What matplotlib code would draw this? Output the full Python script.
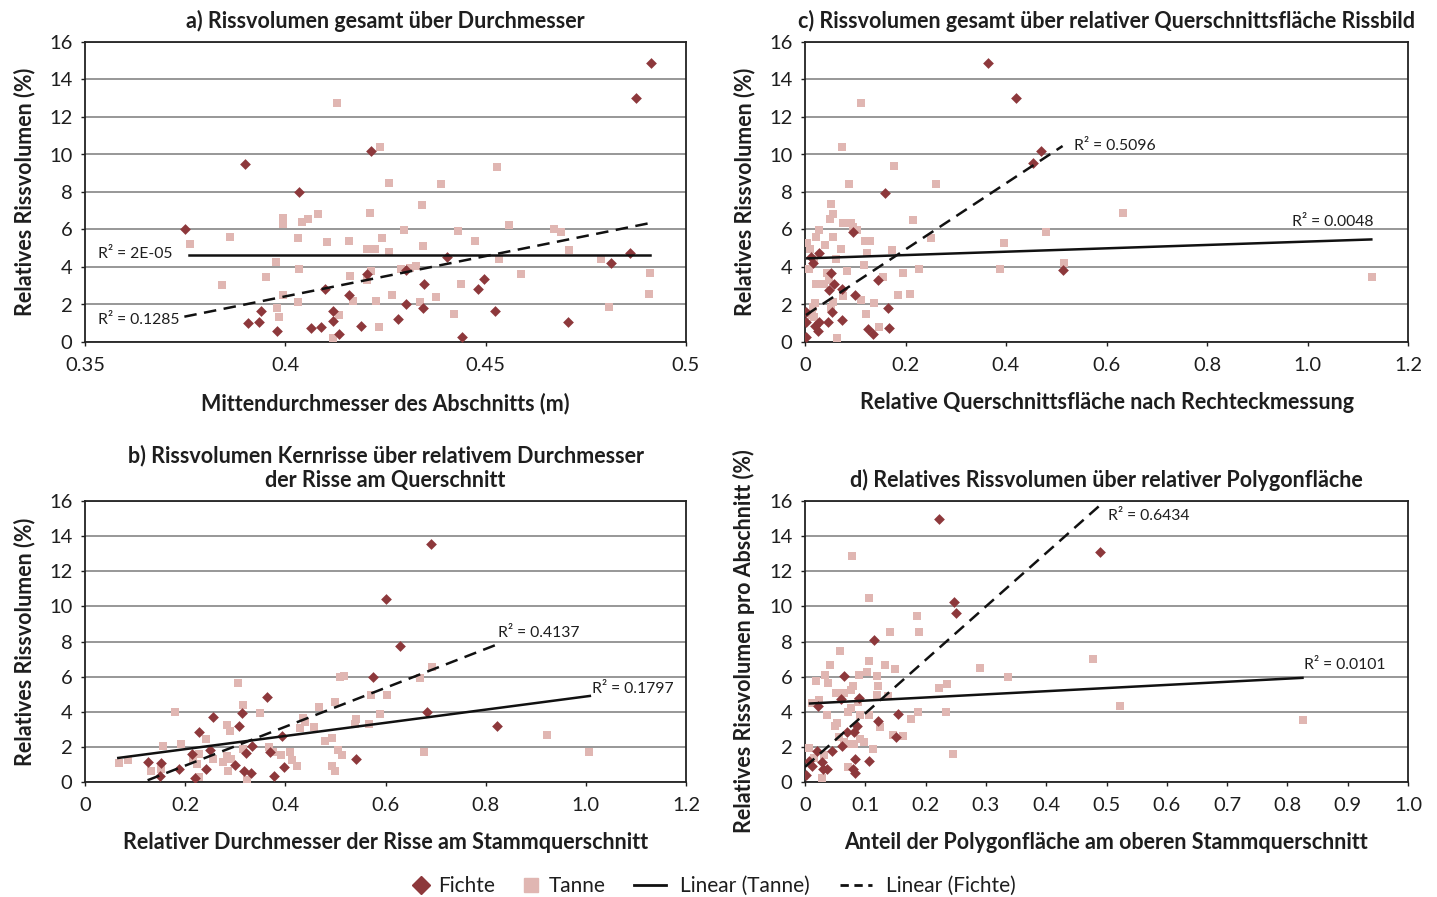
import matplotlib
matplotlib.use("Agg")
import matplotlib.pyplot as plt
from matplotlib.lines import Line2D
import numpy as np

plt.rcParams['font.family'] = ['Lato', 'DejaVu Sans']

# ---------------- data ----------------
# a) Rissvolumen gesamt über Durchmesser
a_fichte_x = [0.375, 0.390, 0.4033, 0.4214, 0.3906, 0.3934, 0.394, 0.3978, 0.4064, 0.4088, 0.410, 0.4119,
              0.4119, 0.4135, 0.416, 0.4188, 0.4204, 0.4913, 0.4874, 0.4404, 0.4346, 0.4301, 0.4300, 0.4343,
              0.4282, 0.4442, 0.4482, 0.4495, 0.4523, 0.4705, 0.4813, 0.486]
a_fichte_y = [6.0, 9.5, 8.0, 10.2, 1.03, 1.08, 1.64, 0.61, 0.73, 0.78, 2.8, 1.65,
              1.14, 0.45, 2.5, 0.85, 3.6, 14.88, 13.0, 4.55, 3.07, 2.03, 3.84, 1.83,
              1.2, 0.29, 2.8, 3.34, 1.63, 1.08, 4.23, 4.72]
a_tanne_x = [0.4128, 0.4237, 0.4211, 0.3994, 0.3994, 0.4042, 0.4057, 0.4082, 0.3763, 0.3863, 0.4032, 0.4103,
             0.4158, 0.4203, 0.4224, 0.4241, 0.3977, 0.4034, 0.4214, 0.3952, 0.3842, 0.4161, 0.4204, 0.3995,
             0.4168, 0.4227, 0.4032, 0.3979, 0.3984, 0.4134, 0.4234, 0.4118, 0.4529, 0.4259, 0.4388, 0.434,
             0.4297, 0.443, 0.4559, 0.467, 0.4688, 0.4344, 0.4473, 0.4259, 0.4707, 0.4533, 0.4788, 0.4289,
             0.4312, 0.4325, 0.491, 0.4587, 0.4438, 0.4265, 0.4376, 0.4335, 0.4908, 0.4807, 0.4421]
a_tanne_y = [12.77, 10.4, 6.9, 6.63, 6.28, 6.4, 6.56, 6.83, 5.24, 5.62, 5.56, 5.31,
             5.40, 4.98, 4.98, 5.56, 4.27, 3.87, 3.77, 3.47, 3.04, 3.54, 3.3, 2.5,
             2.17, 2.17, 2.12, 1.83, 1.33, 1.46, 0.80, 0.21, 9.35, 8.48, 8.43, 7.32,
             5.99, 5.94, 6.24, 6.01, 5.88, 5.14, 5.40, 4.8, 4.9, 4.43, 4.44, 3.87,
             3.93, 4.07, 3.7, 3.64, 3.07, 2.52, 2.38, 2.12, 2.58, 1.88, 1.49]

# c) Rissvolumen gesamt über relativer Querschnittsfläche Rissbild
c_fichte_x = [0.3645, 0.4197, 0.4695, 0.4529, 0.16, 0.514, 0.1448, 0.0996, 0.0737, 0.0584, 0.0485, 0.0518,
              0.0285, 0.0153, 0.012, 0.166, 0.0538, 0.0737, 0.0452, 0.0285, 0.02, 0.0266, 0.002, 0.002,
              0.1248, 0.136, 0.168, 0.002, 0.0963]
c_fichte_y = [14.88, 13.01, 10.17, 9.53, 7.97, 3.82, 3.32, 2.49, 2.81, 3.11, 2.77, 3.66,
              4.76, 4.23, 4.55, 1.8, 1.62, 1.19, 1.07, 1.07, 0.85, 0.6, 1.08, 1.62,
              0.69, 0.43, 0.76, 0.29, 5.88]
c_tanne_x = [0.1122, 0.073, 0.1766, 0.087, 0.2616, 0.0525, 0.0551, 0.0505, 0.0750, 0.0916, 0.095, 0.103,
             0.2158, 0.0285, 0.0226, 0.0551, 0.0046, 0.0405, 0.0711, 0.12, 0.1288, 0.1235, 0.2503, 0.397,
             0.48, 0.174, 0.01, 0.0179, 0.0618, 0.0086, 0.117, 0.0843, 0.0438, 0.1952, 0.2271, 0.3884,
             0.5146, 0.156, 0.0219, 0.0385, 0.0478, 0.0764, 0.1122, 0.1375, 0.186, 0.2092, 0.0551, 0.02,
             0.0166, 0.0146, 0.0518, 0.1215, 0.0179, 0.1467, 0.0637, 0.6335, 1.1275]
c_tanne_y = [12.77, 10.42, 9.39, 8.44, 8.44, 7.34, 6.81, 6.56, 6.33, 6.37, 6.15, 5.97,
             6.52, 5.97, 5.58, 5.6, 5.28, 5.16, 4.94, 5.39, 5.39, 4.76, 5.55, 5.28,
             5.87, 4.89, 4.94, 4.41, 4.44, 3.87, 4.11, 3.79, 3.70, 3.66, 3.87, 3.87,
             4.23, 3.48, 3.07, 3.07, 3.31, 2.45, 2.22, 2.08, 2.52, 2.56, 2.15, 2.06,
             1.88, 1.44, 1.8, 1.48, 1.35, 0.78, 0.2, 6.9, 3.45]

# b) Rissvolumen Kernrisse über relativem Durchmesser der Risse am Querschnitt
b_fichte_x = [0.5755, 0.3639, 0.2561, 0.314, 0.3068, 0.2282, 0.3938, 0.334, 0.2495, 0.2142, 0.3207, 0.3693,
              0.1251, 0.1523, 0.187, 0.2422, 0.2994, 0.3174, 0.3319, 0.2189, 0.1497, 0.3772, 0.3978, 0.5409,
              0.6906, 0.6008, 0.6281, 0.6832, 0.8217]
b_fichte_y = [5.99, 4.85, 3.71, 3.95, 3.18, 2.83, 2.62, 2.04, 1.85, 1.6, 1.66, 1.68,
              1.16, 1.1, 0.76, 0.72, 0.95, 0.61, 0.51, 0.21, 0.32, 0.32, 0.86, 1.33,
              13.57, 10.42, 7.76, 3.97, 3.21]
b_tanne_x = [0.306, 0.1796, 0.3147, 0.3493, 0.2828, 0.2888, 0.2409, 0.191, 0.1563, 0.0685, 0.0852, 0.1311,
             0.1511, 0.2149, 0.2275, 0.2242, 0.2269, 0.2561, 0.2761, 0.284, 0.2908, 0.2848, 0.3147, 0.3234,
             0.3673, 0.3746, 0.3906, 0.4092, 0.4138, 0.4225, 0.4345, 0.4391, 0.4291, 0.4571, 0.4664, 0.479,
             0.4937, 0.499, 0.5056, 0.5123, 0.4937, 0.499, 0.5083, 0.517, 0.541, 0.5396, 0.5676, 0.5702,
             0.5888, 0.692, 0.6687, 0.6022, 0.6773, 0.9215, 1.0066]
b_tanne_y = [5.65, 3.99, 4.39, 3.93, 3.23, 2.93, 2.43, 2.17, 2.05, 1.08, 1.24, 0.65,
             0.72, 1.28, 1.6, 1.05, 0.29, 1.29, 1.14, 1.48, 1.33, 0.61, 1.86, 0.14,
             2.02, 1.73, 1.52, 1.73, 1.24, 0.91, 3.67, 3.4, 3.1, 3.14, 4.26, 2.32,
             2.49, 4.54, 1.81, 1.56, 0.91, 0.65, 5.99, 6.03, 3.61, 3.31, 3.33, 4.98,
             3.9, 6.56, 5.91, 4.98, 1.68, 2.7, 1.73]

# d) Relatives Rissvolumen über relativer Polygonfläche
d_fichte_x = [0.2215, 0.2475, 0.2497, 0.1146, 0.0642, 0.0598, 0.0897, 0.0221, 0.155, 0.1218, 0.0858, 0.0819,
              0.0692, 0.1517, 0.0609, 0.0454, 0.0194, 0.0061, 0.0282, 0.0122, 0.0304, 0.036, 0.0825, 0.1069,
              0.0803, 0.0825, 0.0017, 0.49]
d_fichte_y = [14.98, 10.26, 9.6, 8.08, 6.01, 4.7, 4.79, 4.32, 3.86, 3.46, 3.19, 2.85,
              2.83, 2.59, 2.05, 1.75, 1.75, 1.22, 1.12, 0.93, 0.72, 0.76, 1.31, 1.2,
              0.76, 0.54, 0.38, 13.08]
d_tanne_x = [0.0775, 0.1063, 0.1855, 0.1894, 0.1417, 0.0581, 0.0415, 0.1058, 0.1329, 0.15, 0.1025, 0.2907,
             0.3367, 0.0338, 0.0183, 0.0377, 0.0891, 0.1201, 0.0792, 0.0759, 0.1218, 0.051, 0.0642, 0.1191,
             0.2221, 0.2359, 0.0122, 0.0238, 0.0759, 0.072, 0.0914, 0.1063, 0.037, 0.0886, 0.1384, 0.1882,
             0.2337, 0.1766, 0.0526, 0.0504, 0.1251, 0.0565, 0.0642, 0.0759, 0.0814, 0.0914, 0.0986, 0.1462,
             0.1617, 0.113, 0.0072, 0.0316, 0.0155, 0.072, 0.0277, 0.2453, 0.4779, 0.5216, 0.8251]
d_tanne_y = [12.87, 10.49, 9.46, 8.55, 8.55, 7.45, 6.64, 6.9, 6.64, 6.41, 6.27, 6.47,
             5.97, 6.1, 5.74, 5.65, 6.07, 6.03, 5.47, 5.25, 5.47, 5.06, 5.06, 4.98,
             5.36, 5.59, 4.5, 4.66, 4.22, 3.96, 3.82, 3.8, 3.8, 4.56, 4.89, 3.99,
             3.96, 3.61, 3.36, 3.18, 3.16, 2.57, 2.26, 2.19, 2.19, 2.43, 2.28, 2.68,
             2.62, 1.9, 1.94, 1.52, 1.35, 0.86, 0.23, 1.58, 7.03, 4.33, 3.52]

# linear trend lines: slope, intercept, x-start, x-end, R² text
trend_a_tanne = [0.0, 4.65, 0.376, 0.491, "2E-05"]
trend_a_fichte = [42.97, -14.755, 0.3748, 0.4914, "0.1285"]
trend_c_tanne = [0.90, 4.456, 0.0046, 1.127, "0.0048"]
trend_c_fichte = [17.65, 1.405, 0.002, 0.5126, "0.5096"]
trend_b_tanne = [3.749, 1.121, 0.0665, 1.008, "0.1797"]
trend_b_fichte = [11.08, -1.285, 0.125, 0.82, "0.4137"]
trend_d_tanne = [1.788, 4.455, 0.0083, 0.825, "0.0101"]
trend_d_fichte = [30.45, 0.86, 0.0, 0.49, "0.6434"]

y_ticks = [0, 2, 4, 6, 8, 10, 12, 14, 16]
a_xticks = [0.35, 0.4, 0.45, 0.5]
a_xticklabels = ["0.35", "0.4", "0.45", "0.5"]
c_xticks = [0, 0.2, 0.4, 0.6, 0.8, 1.0, 1.2]
c_xticklabels = ["0", "0.2", "0.4", "0.6", "0.8", "1.0", "1.2"]
b_xticks = c_xticks
b_xticklabels = c_xticklabels
d_xticks = [0, 0.1, 0.2, 0.3, 0.4, 0.5, 0.6, 0.7, 0.8, 0.9, 1.0]
d_xticklabels = ["0", "0.1", "0.2", "0.3", "0.4", "0.5", "0.6", "0.7", "0.8", "0.9", "1.0"]

marker_labels = ["Fichte", "Tanne"]
line_labels = ["Linear (Tanne)", "Linear (Fichte)"]

# ---------------- style ----------------
FICHTE_C = '#8d383b'
TANNE_C = '#e0b6b2'
TXT_C = '#1e1e1e'
W, H = 1437, 897

fig = plt.figure(figsize=(W / 100, H / 100), dpi=100)


def make_ax(l, r, t, b):
    return fig.add_axes([l / W, 1 - b / H, (r - l) / W, (b - t) / H])


ax_a = make_ax(85, 686, 42, 342)
ax_c = make_ax(805, 1408, 42, 342)
ax_b = make_ax(85, 686, 501, 782)
ax_d = make_ax(805, 1408, 501, 782)


def style(ax, xlim, xticks, xlabels, title, xlabel, ylabel):
    ax.set_xlim(*xlim)
    ax.set_ylim(0, 16)
    ax.set_xticks(xticks)
    ax.set_xticklabels(xlabels)
    ax.set_yticks(y_ticks)
    ax.set_yticklabels([str(v) for v in y_ticks])
    ax.tick_params(axis='both', direction='out', length=3, width=1, labelsize=14.5, colors=TXT_C)
    ax.tick_params(axis='x', pad=8)
    ax.tick_params(axis='y', pad=6)
    for sp in ax.spines.values():
        sp.set_linewidth(1.3)
        sp.set_color('#222222')
    ax.yaxis.grid(True, color='#7a7a7a', linewidth=1.1)
    ax.set_axisbelow(True)
    ax.set_title(title, fontsize=15.5, fontweight='bold', pad=10, color=TXT_C, linespacing=1.2)
    ax.set_xlabel(xlabel, fontsize=15.5, fontweight='bold', labelpad=13, color=TXT_C)
    ax.set_ylabel(ylabel, fontsize=15.5, fontweight='bold', labelpad=10, color=TXT_C)


def draw(ax, fx, fy, tx, ty, tr_t, tr_f):
    ax.scatter(tx, ty, marker='s', s=32, color=TANNE_C, linewidths=0, zorder=3)
    ax.scatter(fx, fy, marker='D', s=30, color=FICHTE_C, linewidths=0, zorder=4)
    for tr, ls in ((tr_t, '-'), (tr_f, (0, (5, 3)))):
        m, b, x0, x1, _ = tr
        xs = np.array([x0, x1])
        ax.plot(xs, m * xs + b, color='#111111', linewidth=1.8, linestyle=ls, zorder=5)


style(ax_a, (0.35, 0.5), a_xticks, a_xticklabels, "a) Rissvolumen gesamt über Durchmesser",
      "Mittendurchmesser des Abschnitts (m)", "Relatives Rissvolumen (%)")
draw(ax_a, a_fichte_x, a_fichte_y, a_tanne_x, a_tanne_y, trend_a_tanne, trend_a_fichte)

style(ax_c, (0, 1.2), c_xticks, c_xticklabels,
      "c) Rissvolumen gesamt über relativer Querschnittsfläche Rissbild",
      "Relative Querschnittsfläche nach Rechteckmessung", "Relatives Rissvolumen (%)")
draw(ax_c, c_fichte_x, c_fichte_y, c_tanne_x, c_tanne_y, trend_c_tanne, trend_c_fichte)

style(ax_b, (0, 1.2), b_xticks, b_xticklabels,
      "b) Rissvolumen Kernrisse über relativem Durchmesser\nder Risse am Querschnitt",
      "Relativer Durchmesser der Risse am Stammquerschnitt", "Relatives Rissvolumen (%)")
draw(ax_b, b_fichte_x, b_fichte_y, b_tanne_x, b_tanne_y, trend_b_tanne, trend_b_fichte)

style(ax_d, (0, 1.0), d_xticks, d_xticklabels,
      "d) Relatives Rissvolumen über relativer Polygonfläche",
      "Anteil der Polygonfläche am oberen Stammquerschnitt", "Relatives Rissvolumen pro Abschnitt (%)")
draw(ax_d, d_fichte_x, d_fichte_y, d_tanne_x, d_tanne_y, trend_d_tanne, trend_d_fichte)

# R² labels
lbl_kw = dict(fontsize=11.3, color=TXT_C, va='center', ha='left', zorder=6)
ax_a.text(0.3533, 4.7, "R² = " + trend_a_tanne[4], **lbl_kw)
ax_a.text(0.3533, 1.2, "R² = " + trend_a_fichte[4], **lbl_kw)
ax_c.text(0.535, 10.45, "R² = " + trend_c_fichte[4], **lbl_kw)
ax_c.text(0.970, 6.4, "R² = " + trend_c_tanne[4], **lbl_kw)
ax_b.text(0.824, 8.48, "R² = " + trend_b_fichte[4], **lbl_kw)
ax_b.text(1.012, 5.28, "R² = " + trend_b_tanne[4], **lbl_kw)
ax_d.text(0.5017, 15.15, "R² = " + trend_d_fichte[4], **lbl_kw)
ax_d.text(0.828, 6.65, "R² = " + trend_d_tanne[4], **lbl_kw)

# legend (two parts so marker and line entries get their own handle widths)
h_f = Line2D([], [], marker='D', color=FICHTE_C, linestyle='none', markersize=9)
h_t = Line2D([], [], marker='s', color=TANNE_C, linestyle='none', markersize=10)
h_lt = Line2D([], [], color='#111111', linewidth=2)
h_lf = Line2D([], [], color='#111111', linewidth=2, linestyle=(0, (3, 2)))
leg1 = fig.legend([h_f, h_t], marker_labels, loc='center',
                  bbox_to_anchor=(509 / W, 1 - 886 / H), ncol=2, frameon=False, fontsize=15,
                  handlelength=0.8, columnspacing=1.33, handletextpad=0.42, labelcolor=TXT_C)
leg2 = fig.legend([h_lt, h_lf], line_labels, loc='center',
                  bbox_to_anchor=(824.5 / W, 1 - 886 / H), ncol=2, frameon=False, fontsize=15,
                  handlelength=1.55, columnspacing=1.44, handletextpad=0.67, labelcolor=TXT_C)

fig.savefig("out.png", dpi=100)
